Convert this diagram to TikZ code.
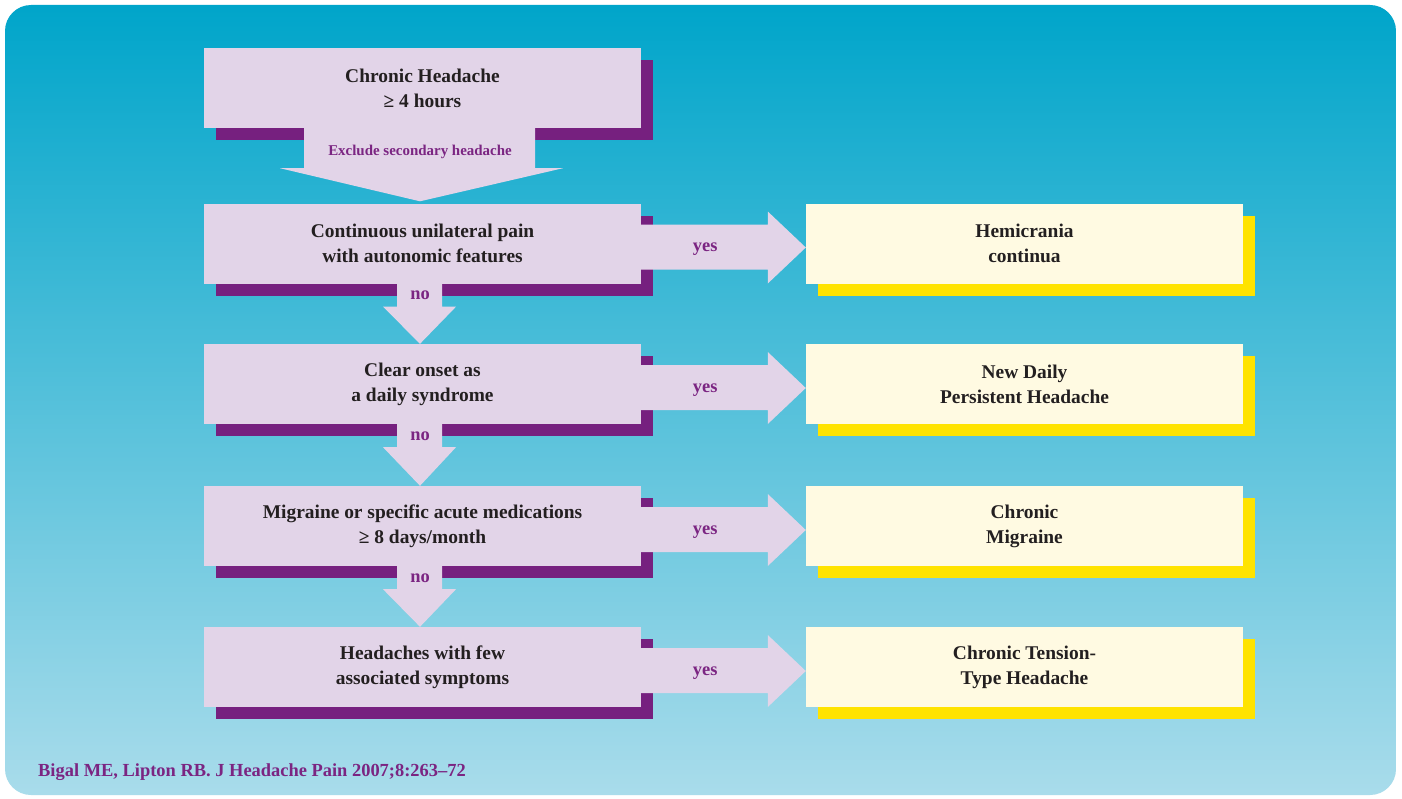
\documentclass[tikz,border=0pt]{standalone}
\usepackage{fontspec}
\setmainfont{Liberation Serif}
\usetikzlibrary{calc,shadows}
\definecolor{bgtop}{HTML}{00A5CA}
\definecolor{bgbot}{HTML}{A9DCEB}
\definecolor{lav}{HTML}{E2D4E8}
\definecolor{plum}{HTML}{76207F}
\definecolor{cream}{HTML}{FFFAE2}
\definecolor{gold}{HTML}{FFE300}
\definecolor{ink}{HTML}{231F20}
\definecolor{plumtext}{HTML}{7B2582}
\tikzset{
  boxbase/.style={draw=none,minimum width=437bp,minimum height=80bp,inner sep=0pt,
    align=center,text=ink,font=\fontsize{19.5}{25}\selectfont\bfseries},
  qbox/.style={boxbase,fill=lav,
    drop shadow={shadow xshift=12bp,shadow yshift=-12bp,fill=plum,opacity=1}},
  dbox/.style={boxbase,fill=cream,
    drop shadow={shadow xshift=12bp,shadow yshift=-12bp,fill=gold,opacity=1}},
  answer/.style={text=plumtext,font=\fontsize{18.5}{20}\selectfont\bfseries,inner sep=0pt},
}
\begin{document}
\begin{tikzpicture}[x=1bp,y=-1bp]
%%
\fill[white] (0,0) rectangle (1402,798);
\useasboundingbox (0,0) rectangle (1402,798);
\shade[top color=bgtop,bottom color=bgbot,rounded corners=26bp] (5,5) rectangle (1396,795);
%
\node (q1) at (422.5,88) [qbox] {Chronic Headache\\ ≥ 4 hours};
\node (q2) at (422.5,243.5) [qbox] {Continuous unilateral pain\\ with autonomic features};
\node (q3) at (422.5,384) [qbox] {Clear onset as\\ a daily syndrome};
\node (q4) at (422.5,526) [qbox] {Migraine or specific acute medications\\ ≥ 8 days/month};
\node (q5) at (422.5,667) [qbox] {Headaches with few\\ associated symptoms};
\node (r2) at (1024.5,243.5) [dbox] {Hemicrania\\ continua};
\node (r3) at (1024.5,384) [dbox] {New Daily\\ Persistent Headache};
\node (r4) at (1024.5,526) [dbox] {Chronic\\ Migraine};
\node (r5) at (1024.5,667) [dbox] {Chronic Tension-\\ Type Headache};
%
\fill[lav] ($(q1.south)+(-118.5,-2)$) -- ($(q1.south)+(-118.5,40)$) -- ($(q1.south)+(-142.5,40)$)
  -- ($(q2.north)+(-2.5,-2)$) -- ($(q1.south)+(140.5,40)$) -- ($(q1.south)+(112.5,40)$)
  -- ($(q1.south)+(112.5,-2)$) -- cycle;
\node (excl) at ($(q1.south)+(-2.5,24)$) [answer,font=\fontsize{15}{16}\selectfont\bfseries] {Exclude secondary headache};
%
\foreach \k/\n in {2/3,3/4,4/5} {
  \fill[lav] ($(q\k.south)+(-25.5,-2)$) -- ($(q\k.south)+(-25.5,23)$) -- ($(q\k.south)+(-39.5,23)$)
    -- ($(q\n.north)+(-2.5,0)$) -- ($(q\k.south)+(33.5,23)$) -- ($(q\k.south)+(19.5,23)$)
    -- ($(q\k.south)+(19.5,-2)$) -- cycle;
  \node (no\k) at ($(q\k.south)+(-2.5,12)$) [answer] {no};
}
\foreach \k in {2,3,4,5} {
  \fill[lav] ($(q\k.east)+(-5,-19)$) -- ($(r\k.west)+(-38,-19)$) -- ($(r\k.west)+(-38,-32)$)
    -- ($(r\k.west)+(0,4)$) -- ($(r\k.west)+(-38,40)$) -- ($(r\k.west)+(-38,26)$)
    -- ($(q\k.east)+(-5,26)$) -- cycle;
  \node (yes\k) at ($(q\k.east)+(64,6)$) [answer] {yes};
}
%
\node (cite) at (38,772) [answer,anchor=west] {Bigal ME, Lipton RB. J Headache Pain 2007;8:263–72};
%
\end{tikzpicture}
\end{document}
